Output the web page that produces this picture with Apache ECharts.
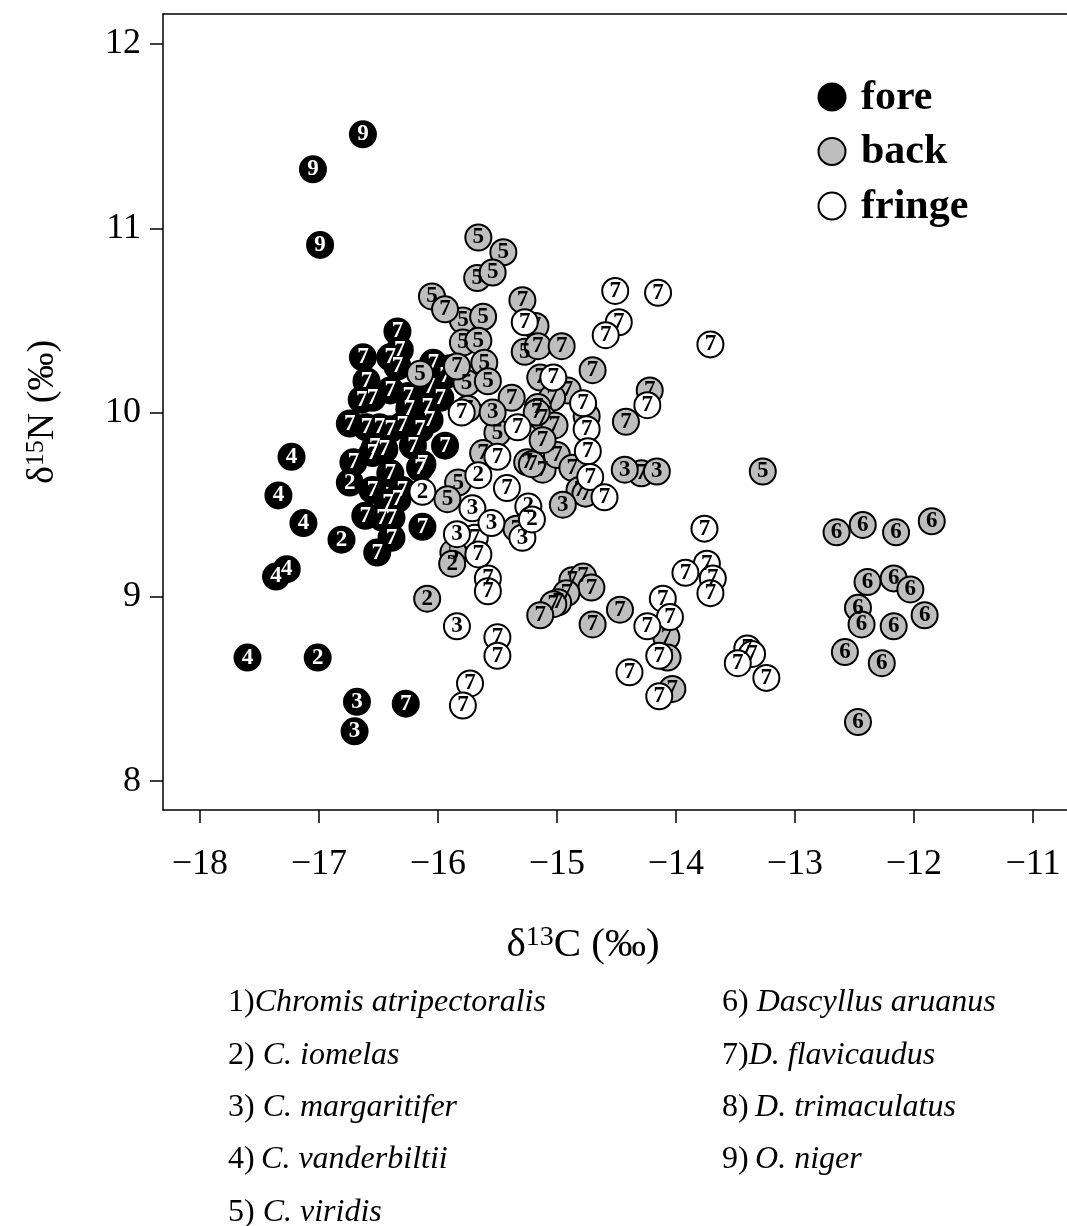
<!DOCTYPE html>
<html>
<head>
<meta charset="utf-8">
<script src="https://cdn.jsdelivr.net/npm/echarts@6/dist/echarts.min.js"></script>
<style>
  html, body { margin: 0; padding: 0; background: #fff; }
  #chart { width: 1067px; height: 1226px; }
</style>
</head>
<body>
<div id="chart"></div>
<script>
// Stable isotope values per reef zone: [δ13C, δ15N, species number]
const forePoints = [
  [-16.63, 11.51, 9], [-17.05, 11.32, 9], [-16.99, 10.91, 9],
  [-17.23, 9.76, 4], [-17.34, 9.55, 4], [-17.13, 9.40, 4], [-17.36, 9.11, 4], [-17.27, 9.15, 4], [-17.60, 8.67, 4],
  [-16.81, 9.31, 2], [-17.01, 8.67, 2], [-16.74, 9.62, 2],
  [-16.68, 8.43, 3], [-16.70, 8.27, 3],
  [-16.27, 8.42, 7],
  [-16.34, 10.44, 7], [-16.32, 10.34, 7], [-16.63, 10.30, 7], [-16.40, 10.30, 7], [-16.34, 10.25, 7],
  [-16.04, 10.27, 7], [-15.94, 10.20, 7], [-15.90, 10.24, 7], [-16.60, 10.17, 7], [-16.64, 10.07, 7],
  [-16.55, 10.08, 7], [-16.40, 10.12, 7], [-16.25, 10.09, 7], [-16.07, 10.14, 7], [-15.98, 10.08, 7],
  [-16.74, 9.94, 7], [-16.60, 9.92, 7], [-16.49, 9.92, 7], [-16.40, 9.91, 7], [-16.30, 9.93, 7],
  [-16.24, 10.02, 7], [-16.15, 9.91, 7], [-16.07, 9.96, 7], [-16.09, 10.03, 7], [-15.94, 9.82, 7],
  [-16.53, 9.81, 7], [-16.21, 9.82, 7], [-16.71, 9.73, 7], [-16.55, 9.78, 7], [-16.45, 9.80, 7],
  [-16.13, 9.72, 7], [-16.15, 9.70, 7], [-16.40, 9.67, 7], [-16.55, 9.58, 7], [-16.30, 9.58, 7],
  [-16.42, 9.51, 7], [-16.34, 9.53, 7], [-16.61, 9.44, 7], [-16.47, 9.43, 7], [-16.39, 9.43, 7],
  [-16.13, 9.38, 7], [-16.39, 9.32, 7], [-16.51, 9.24, 7]
];

const backPoints = [
  [-15.66, 10.95, 5], [-15.45, 10.87, 5], [-15.67, 10.73, 5], [-15.54, 10.76, 5], [-16.05, 10.63, 5],
  [-15.79, 10.50, 5], [-15.62, 10.52, 5], [-15.79, 10.38, 5], [-15.66, 10.39, 5], [-15.61, 10.27, 5],
  [-16.15, 10.21, 5], [-15.76, 10.16, 5], [-15.58, 10.17, 5], [-15.50, 9.89, 5], [-15.27, 10.33, 5],
  [-15.83, 9.62, 5], [-15.92, 9.53, 5], [-15.87, 9.24, 5], [-13.27, 9.68, 5],
  [-15.94, 10.56, 7], [-15.84, 10.25, 7], [-15.75, 10.02, 7], [-15.38, 10.08, 7], [-15.29, 10.61, 7],
  [-15.18, 10.47, 7], [-15.16, 10.36, 7], [-14.96, 10.36, 7], [-14.70, 10.23, 7], [-15.14, 10.19, 7],
  [-14.91, 10.12, 7], [-15.04, 10.08, 7], [-15.16, 10.03, 7], [-15.12, 9.97, 7], [-15.02, 9.93, 7],
  [-14.75, 9.98, 7], [-14.42, 9.95, 7], [-14.22, 10.12, 7], [-15.62, 9.78, 7], [-15.25, 9.73, 7],
  [-15.12, 9.69, 7], [-15.00, 9.77, 7], [-15.21, 9.72, 7], [-14.87, 9.70, 7], [-14.81, 9.58, 7],
  [-14.76, 9.56, 7], [-14.29, 9.67, 7], [-15.34, 9.37, 7], [-15.17, 10.00, 7], [-15.12, 9.85, 7],
  [-14.87, 9.09, 7], [-14.78, 9.11, 7], [-14.71, 9.05, 7], [-14.92, 9.02, 7], [-14.99, 8.97, 7],
  [-15.03, 8.96, 7], [-15.14, 8.90, 7], [-14.47, 8.93, 7], [-14.70, 8.85, 7], [-14.08, 8.78, 7],
  [-14.07, 8.67, 7], [-14.03, 8.50, 7],
  [-15.54, 10.00, 3], [-14.95, 9.50, 3], [-14.43, 9.69, 3], [-14.16, 9.68, 3],
  [-15.88, 9.18, 2], [-16.09, 8.99, 2],
  [-12.65, 9.35, 6], [-12.43, 9.39, 6], [-12.15, 9.35, 6], [-11.85, 9.41, 6], [-12.39, 9.08, 6],
  [-12.17, 9.10, 6], [-12.03, 9.04, 6], [-12.47, 8.94, 6], [-12.44, 8.85, 6], [-12.17, 8.84, 6],
  [-11.91, 8.90, 6], [-12.58, 8.70, 6], [-12.27, 8.64, 6], [-12.47, 8.32, 6]
];

const fringePoints = [
  [-14.51, 10.66, 7], [-14.15, 10.65, 7], [-14.48, 10.49, 7], [-14.59, 10.42, 7], [-13.71, 10.37, 7],
  [-15.27, 10.49, 7], [-14.24, 10.04, 7], [-15.03, 10.19, 7], [-14.78, 10.05, 7], [-14.75, 9.91, 7],
  [-14.74, 9.79, 7], [-14.72, 9.65, 7], [-14.60, 9.54, 7], [-15.33, 9.92, 7], [-15.50, 9.76, 7],
  [-15.42, 9.59, 7], [-15.80, 10.00, 7], [-15.69, 9.32, 7], [-15.66, 9.23, 7], [-15.58, 9.10, 7],
  [-15.58, 9.03, 7], [-15.50, 8.78, 7], [-15.50, 8.68, 7], [-15.73, 8.53, 7], [-15.79, 8.41, 7],
  [-13.76, 9.37, 7], [-13.74, 9.18, 7], [-13.92, 9.13, 7], [-13.69, 9.10, 7], [-13.71, 9.02, 7],
  [-14.11, 8.99, 7], [-14.05, 8.89, 7], [-14.24, 8.84, 7], [-14.14, 8.68, 7], [-14.39, 8.59, 7],
  [-14.14, 8.46, 7], [-13.40, 8.72, 7], [-13.36, 8.69, 7], [-13.48, 8.64, 7], [-13.24, 8.56, 7],
  [-15.71, 9.48, 3], [-15.55, 9.40, 3], [-15.84, 9.34, 3], [-15.29, 9.32, 3], [-15.84, 8.84, 3],
  [-16.13, 9.57, 2], [-15.66, 9.66, 2], [-15.24, 9.49, 2], [-15.21, 9.42, 2]
];

const xTicks = [-18, -17, -16, -15, -14, -13, -12, -11];
const yTicks = [8, 9, 10, 11, 12];

const zoneNames = ['fore', 'back', 'fringe'];
const zoneFill = ['#000000', '#bebebe', '#ffffff'];
const zoneText = ['#ffffff', '#000000', '#000000'];

const speciesLeft = [
  ['1)', 'Chromis atripectoralis'],
  ['2)', ' C. iomelas'],
  ['3)', ' C. margaritifer'],
  ['4)', '\u2009C. vanderbiltii'],
  ['5)', ' C. viridis']
];
const speciesRight = [
  ['6)', ' Dascyllus aruanus'],
  ['7)', 'D. flavicaudus'],
  ['8)', '\u2009D. trimaculatus'],
  ['9)', '\u2009O. niger']
];

const SERIF = '"Liberation Serif", "DejaVu Serif", serif';
const LINE = { color: '#000', width: 1.5 };

const chart = echarts.init(document.getElementById('chart'), null, { renderer: 'canvas' });

function zoneSeries(name, data, idx) {
  return {
    name: name,
    type: 'scatter',
    z: 2 + idx,
    data: data,
    encode: { x: 0, y: 1 },
    symbol: 'circle',
    symbolSize: 26,
    itemStyle: { color: zoneFill[idx], borderColor: '#000', borderWidth: 2, opacity: 1 },
    label: {
      show: true,
      position: 'inside',
      formatter: p => '{d|' + p.value[2] + '}',
      overflow: 'none',
      rich: {
        d: {
          color: zoneText[idx],
          fontFamily: SERIF,
          fontWeight: 'bold',
          fontSize: 23,
          lineHeight: 24
        }
      }
    },
    labelLayout: { hideOverlap: false },
    emphasis: { disabled: true },
    animation: false
  };
}

const graphics = [];
// legend of reef zones
zoneNames.forEach((n, i) => {
  const cy = 97 + i * 54.5;
  graphics.push({
    type: 'circle', shape: { cx: 832, cy: cy, r: 13.5 },
    style: { fill: zoneFill[i], stroke: '#000', lineWidth: 2 }
  });
  graphics.push({
    type: 'text', x: 861, y: cy + 1,
    style: { text: n, fontFamily: SERIF, fontWeight: 'bold', fontSize: 42, fill: '#000', verticalAlign: 'middle' }
  });
});
// species key
const rich = {
  n: { fontFamily: SERIF, fontSize: 32, fill: '#000', color: '#000' },
  i: { fontFamily: SERIF, fontSize: 32, fontStyle: 'italic', fill: '#000', color: '#000' }
};
speciesLeft.forEach((s, k) => {
  graphics.push({
    type: 'text', x: 228, y: 1003 + k * 52.3,
    style: { text: '{n|' + s[0] + '}{i|' + s[1] + '}', rich: rich, verticalAlign: 'middle' }
  });
});
speciesRight.forEach((s, k) => {
  graphics.push({
    type: 'text', x: 722, y: 1003 + k * 52.3,
    style: { text: '{n|' + s[0] + '}{i|' + s[1] + '}', rich: rich, verticalAlign: 'middle' }
  });
});

const option = {
  backgroundColor: '#fff',
  animation: false,
  grid: {
    left: 163, top: 14, width: 908, height: 796,
    outerBoundsMode: 'none', containLabel: false,
    show: false
  },
  xAxis: [{
    type: 'value', min: -18.31, max: -10.68, position: 'bottom',
    axisLine: { show: true, onZero: false, lineStyle: LINE },
    splitLine: { show: false },
    axisTick: { show: true, inside: false, length: 13, lineStyle: LINE, customValues: xTicks },
    axisLabel: { customValues: xTicks, fontFamily: SERIF, fontSize: 36, color: '#000', margin: 37, formatter: v => String(v).replace('-', '\u2212') },
    name: '{m|δ}{s|13}{m|C (‰)}',
    nameLocation: 'middle',
    nameGap: 114,
    nameTextStyle: {
      padding: [0, 68, 0, 0],
      rich: {
        m: { fontFamily: SERIF, fontSize: 41, color: '#000' },
        s: { fontFamily: SERIF, fontSize: 28, color: '#000', verticalAlign: 'top', padding: [0, 0, 15, 0] }
      }
    }
  }, {
    // top edge of the plot frame
    type: 'value', min: -18.31, max: -10.68, position: 'top',
    axisLine: { show: true, onZero: false, lineStyle: LINE },
    axisTick: { show: false }, axisLabel: { show: false }, splitLine: { show: false }
  }],
  yAxis: {
    type: 'value', min: 7.843, max: 12.163,
    axisLine: { show: true, onZero: false, lineStyle: LINE },
    splitLine: { show: false },
    axisTick: { show: true, inside: false, length: 13, lineStyle: LINE, customValues: yTicks },
    axisLabel: { customValues: yTicks, fontFamily: SERIF, fontSize: 36, color: '#000', margin: 22, formatter: v => String(v) },
    name: '{m|δ}{s|15}{m|N (‰)}',
    nameLocation: 'middle',
    nameRotate: 90,
    nameGap: 100,
    nameTextStyle: {
      rich: {
        m: { fontFamily: SERIF, fontSize: 38, color: '#000' },
        s: { fontFamily: SERIF, fontSize: 26, color: '#000', verticalAlign: 'top', padding: [0, 0, 14, 0] }
      }
    }
  },
  series: [
    zoneSeries('fore', forePoints, 0),
    zoneSeries('back', backPoints, 1),
    zoneSeries('fringe', fringePoints, 2)
  ],
  graphic: graphics
};

chart.setOption(option);
</script>
</body>
</html>
